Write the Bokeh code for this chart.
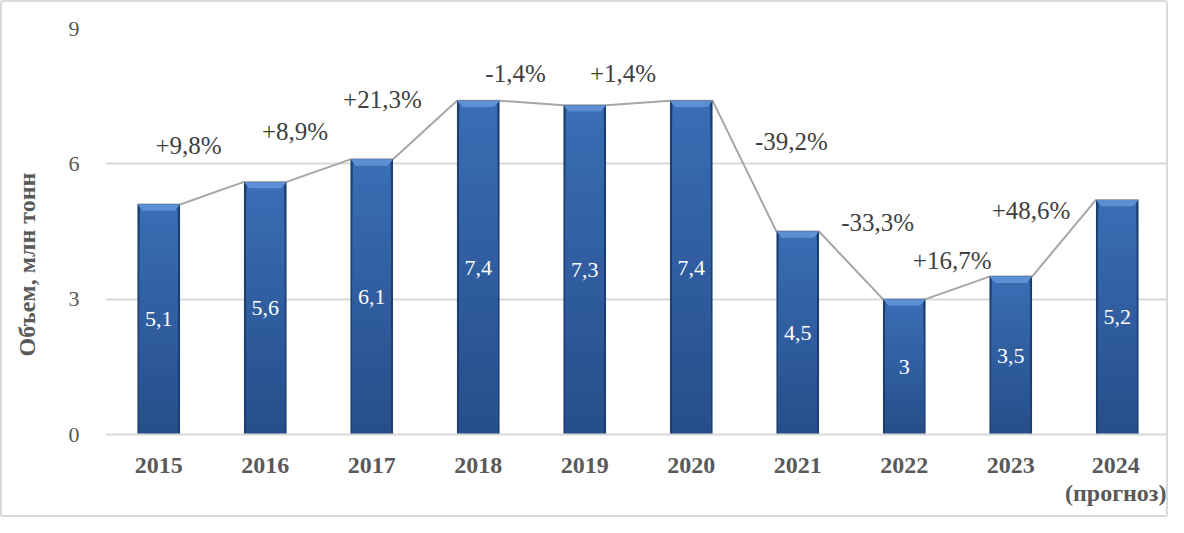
import math
from bokeh.plotting import figure
from bokeh.models import Range1d, FixedTicker
from bokeh.core.properties import value
from bokeh.embed import file_html
from bokeh.resources import INLINE

# ---- data ----
years = ["2015", "2016", "2017", "2018", "2019", "2020", "2021", "2022", "2023", "2024"]
year_labels = ["2015", "2016", "2017", "2018", "2019", "2020", "2021", "2022", "2023", "2024\n(прогноз)"]
volumes = [5.1, 5.6, 6.1, 7.4, 7.3, 7.4, 4.5, 3.0, 3.5, 5.2]
volume_texts = ["5,1", "5,6", "6,1", "7,4", "7,3", "7,4", "4,5", "3", "3,5", "5,2"]
changes = ["+9,8%", "+8,9%", "+21,3%", "-1,4%", "+1,4%", "-39,2%", "-33,3%", "+16,7%", "+48,6%"]
y_ticks = [0, 3, 6, 9]

# ---- layout (label anchor positions, in axis units) ----
pct_x = [0.28, 1.28, 2.10, 3.35, 4.36, 5.94, 6.75, 7.45, 8.19]
pct_y = [6.41, 6.72, 7.43, 8.00, 8.00, 6.50, 4.70, 3.86, 4.97]

FONT = "Liberation Serif"
BAR_W = 0.40
GRAY = "#595959"

p = figure(width=1168, height=517, output_backend="svg", toolbar_location=None,
           x_range=Range1d(-0.5, 9.5), y_range=Range1d(0, 9),
           min_border_left=103, min_border_right=0, min_border_top=26, min_border_bottom=85)
p.outline_line_color = None
p.styles = {"border": "2px solid #d9d9d9", "border-radius": "3px", "box-sizing": "border-box"}

# axes
p.xaxis.ticker = FixedTicker(ticks=list(range(len(years))))
p.xaxis.major_label_overrides = {i: t for i, t in enumerate(year_labels)}
p.xaxis.major_tick_line_color = None
p.xaxis.minor_tick_line_color = None
p.xaxis.axis_line_color = "#d9d9d9"
p.xaxis.axis_line_width = 2
p.xaxis.major_label_text_font = FONT
p.xaxis.major_label_text_font_style = "bold"
p.xaxis.major_label_text_font_size = "24px"
p.xaxis.major_label_text_color = GRAY
p.xaxis.major_label_standoff = 11
p.xaxis.major_label_text_line_height = 1.1

p.yaxis.ticker = FixedTicker(ticks=y_ticks)
p.yaxis.major_tick_line_color = None
p.yaxis.minor_tick_line_color = None
p.yaxis.axis_line_color = None
p.yaxis.major_label_text_font = FONT
p.yaxis.major_label_text_font_size = "22px"
p.yaxis.major_label_text_color = GRAY
p.yaxis.major_label_standoff = 20
p.yaxis.axis_label = "Объем, млн тонн" + "\u00a0" * 11
p.yaxis.axis_label_text_font = FONT
p.yaxis.axis_label_text_font_style = "bold"
p.yaxis.axis_label_text_font_size = "24px"
p.yaxis.axis_label_text_color = GRAY
p.yaxis.axis_label_standoff = 26

p.xgrid.grid_line_color = None
p.ygrid.grid_line_color = "#d9d9d9"
p.ygrid.grid_line_width = 2

# connecting line between bar tops (corner to corner)
lx, ly = [], []
for i, v in enumerate(volumes):
    lx += [i - BAR_W / 2, i + BAR_W / 2]
    ly += [v, v]
p.line(lx, ly, line_color="#a6a6a6", line_width=2)

# bars: dark edge + vertical gradient body + light top bevel
xs = list(range(len(volumes)))
p.vbar(x=xs, top=volumes, width=BAR_W, fill_color="#1d3f70", line_color=None)
N = 24
top_c = (0x3a, 0x6e, 0xb6)
bot_c = (0x26, 0x4e, 0x8a)
inner_w = BAR_W - 0.045
for k in range(N - 1, -1, -1):
    f1 = (k + 1) / N
    t = (k + 0.5) / N
    c = tuple(int(bot_c[j] + (top_c[j] - bot_c[j]) * t) for j in range(3))
    col = "#%02x%02x%02x" % c
    p.quad(left=[i - inner_w / 2 for i in xs], right=[i + inner_w / 2 for i in xs],
           bottom=[0] * len(xs), top=[v * f1 for v in volumes],
           fill_color=col, line_color=None)
# top bevel trapezoids
bev = 0.14
px_list, py_list = [], []
for i, v in enumerate(volumes):
    px_list.append([i - BAR_W / 2, i + BAR_W / 2, i + BAR_W / 2 - 0.05, i - BAR_W / 2 + 0.05])
    py_list.append([v, v, v - bev, v - bev])
p.patches(px_list, py_list, fill_color="#5c90d3", line_color=None)

# value labels inside bars
p.text(x=xs, y=[v / 2 for v in volumes], text=volume_texts,
       text_font=value(FONT), text_font_size="22px", text_color="white",
       text_align="center", text_baseline="middle")

# percentage change labels
p.text(x=pct_x, y=pct_y, text=changes,
       text_font=value(FONT), text_font_size="25px", text_color="#404040",
       text_align="center", text_baseline="middle")

open("out.html", "w").write(file_html(p, INLINE))
